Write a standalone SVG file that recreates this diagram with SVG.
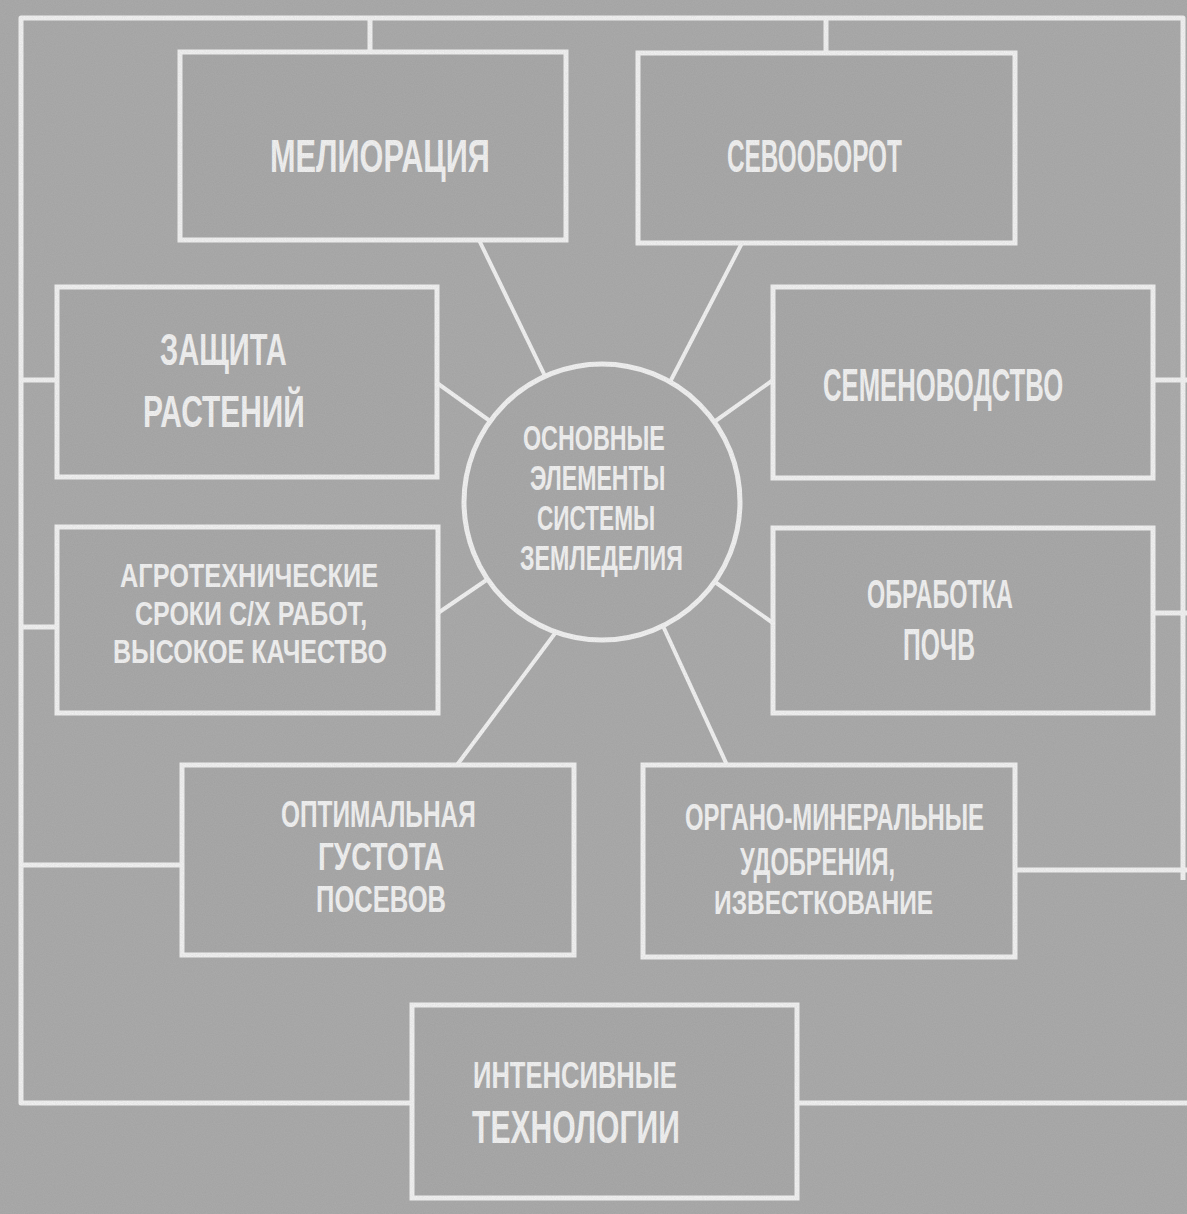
<svg xmlns="http://www.w3.org/2000/svg" width="1187" height="1214" viewBox="0 0 1187 1214">
<style>
.bg{fill:#a2a2a2}
.box{fill:#a0a0a0;stroke:#f4f4f4;stroke-width:5}
.ln{fill:none;stroke:#f4f4f4;stroke-width:5;stroke-linecap:butt;stroke-linejoin:round}
.sp{fill:none;stroke:#f4f4f4;stroke-width:4}
.t{font-family:"Liberation Sans","DejaVu Sans",sans-serif;font-weight:bold;fill:#f4f4f4}
</style>
<defs>
<filter id="grain" x="0" y="0" width="100%" height="100%">
<feTurbulence type="fractalNoise" baseFrequency="0.9" numOctaves="2" seed="3" result="n"/>
<feColorMatrix type="matrix" values="0 0 0 0 0.5  0 0 0 0 0.5  0 0 0 0 0.5  0 0 0 0.35 0"/>
</filter>
</defs>
<rect class="bg" x="0" y="0" width="1187" height="1214"/>
<g id="connectors">
<path class="ln" d="M412,1103 H21 V18 H1183 V880"/>
<path class="ln" d="M797,1103 H1187"/>
<path class="ln" d="M370,18 V52 M826,18 V53"/>
<path class="ln" d="M21,380 H57 M21,627 H57 M21,865 H182"/>
<path class="ln" d="M1153,380 H1187 M1153,613 H1187 M1015,870 H1187"/>
<path class="sp" d="M479,240 L545,376 M742,243 L670,382 M437,383 L490,421 M438,613 L488,579 M773,380 L714,422 M773,623 L715,582 M457,765 L556,632 M727,765 L663,626"/>
</g>
<g id="center">
<circle class="box" cx="602" cy="502" r="138"/>
<text class="t" transform="translate(523,450) scale(0.66,1)" font-size="35" textLength="215" lengthAdjust="spacingAndGlyphs">ОСНОВНЫЕ</text>
<text class="t" transform="translate(530,490) scale(0.66,1)" font-size="35" textLength="205" lengthAdjust="spacingAndGlyphs">ЭЛЕМЕНТЫ</text>
<text class="t" transform="translate(537,530) scale(0.66,1)" font-size="35" textLength="179" lengthAdjust="spacingAndGlyphs">СИСТЕМЫ</text>
<text class="t" transform="translate(520,570) scale(0.66,1)" font-size="35" textLength="247" lengthAdjust="spacingAndGlyphs">ЗЕМЛЕДЕЛИЯ</text>
</g>
<g id="melioraciya">
<rect class="box" x="180" y="52" width="386" height="188"/>
<text class="t" transform="translate(270,172) scale(0.66,1)" font-size="46" textLength="333" lengthAdjust="spacingAndGlyphs">МЕЛИОРАЦИЯ</text>
</g>
<g id="sevooborot">
<rect class="box" x="638" y="53" width="377" height="190"/>
<text class="t" transform="translate(727,172) scale(0.66,1)" font-size="46" textLength="265" lengthAdjust="spacingAndGlyphs">СЕВООБОРОТ</text>
</g>
<g id="zashchita">
<rect class="box" x="57" y="287" width="380" height="190"/>
<text class="t" transform="translate(160,365) scale(0.66,1)" font-size="44" textLength="192" lengthAdjust="spacingAndGlyphs">ЗАЩИТА</text>
<text class="t" transform="translate(143,427) scale(0.66,1)" font-size="44" textLength="245" lengthAdjust="spacingAndGlyphs">РАСТЕНИЙ</text>
</g>
<g id="semenovodstvo">
<rect class="box" x="773" y="287" width="380" height="191"/>
<text class="t" transform="translate(823,401) scale(0.66,1)" font-size="46" textLength="364" lengthAdjust="spacingAndGlyphs">СЕМЕНОВОДСТВО</text>
</g>
<g id="agrotehnicheskie">
<rect class="box" x="57" y="527" width="381" height="186"/>
<text class="t" transform="translate(120,587) scale(0.66,1)" font-size="34" textLength="391" lengthAdjust="spacingAndGlyphs">АГРОТЕХНИЧЕСКИЕ</text>
<text class="t" transform="translate(135,625) scale(0.66,1)" font-size="34" textLength="352" lengthAdjust="spacingAndGlyphs">СРОКИ С/Х РАБОТ,</text>
<text class="t" transform="translate(113,663) scale(0.66,1)" font-size="34" textLength="415" lengthAdjust="spacingAndGlyphs">ВЫСОКОЕ  КАЧЕСТВО</text>
</g>
<g id="obrabotka">
<rect class="box" x="773" y="528" width="380" height="185"/>
<text class="t" transform="translate(867,608) scale(0.66,1)" font-size="40" textLength="221" lengthAdjust="spacingAndGlyphs">ОБРАБОТКА</text>
<text class="t" transform="translate(903,660) scale(0.66,1)" font-size="45" textLength="109" lengthAdjust="spacingAndGlyphs">ПОЧВ</text>
</g>
<g id="gustota">
<rect class="box" x="182" y="765" width="392" height="190"/>
<text class="t" transform="translate(281,827) scale(0.66,1)" font-size="37" textLength="295" lengthAdjust="spacingAndGlyphs">ОПТИМАЛЬНАЯ</text>
<text class="t" transform="translate(318,870) scale(0.66,1)" font-size="38" textLength="191" lengthAdjust="spacingAndGlyphs">ГУСТОТА</text>
<text class="t" transform="translate(316,912) scale(0.66,1)" font-size="37" textLength="197" lengthAdjust="spacingAndGlyphs">ПОСЕВОВ</text>
</g>
<g id="udobreniya">
<rect class="box" x="643" y="765" width="372" height="192"/>
<text class="t" transform="translate(685,830) scale(0.66,1)" font-size="37" textLength="453" lengthAdjust="spacingAndGlyphs">ОРГАНО-МИНЕРАЛЬНЫЕ</text>
<text class="t" transform="translate(740,875) scale(0.66,1)" font-size="38" textLength="235" lengthAdjust="spacingAndGlyphs">УДОБРЕНИЯ,</text>
<text class="t" transform="translate(714,914) scale(0.66,1)" font-size="34" textLength="332" lengthAdjust="spacingAndGlyphs">ИЗВЕСТКОВАНИЕ</text>
</g>
<g id="intensivnye">
<rect class="box" x="412" y="1005" width="385" height="193"/>
<text class="t" transform="translate(473,1088) scale(0.66,1)" font-size="37" textLength="309" lengthAdjust="spacingAndGlyphs">ИНТЕНСИВНЫЕ</text>
<text class="t" transform="translate(472,1143) scale(0.66,1)" font-size="46" textLength="315" lengthAdjust="spacingAndGlyphs">ТЕХНОЛОГИИ</text>
</g>
<rect x="0" y="0" width="1187" height="1214" filter="url(#grain)" pointer-events="none"/>
</svg>
